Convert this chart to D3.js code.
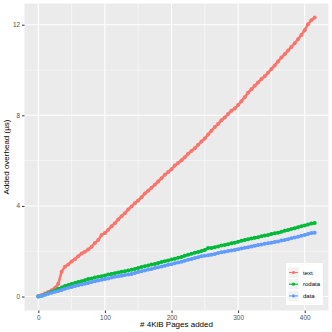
<!DOCTYPE html>
<html>
<head>
<meta charset="utf-8">
<script src="https://cdn.jsdelivr.net/npm/d3@7"></script>
<style>
  body { margin: 0; background: #fff; }
  text { font-family: "Liberation Sans", Arial, sans-serif; }
</style>
</head>
<body>
<svg id="chart" width="332" height="332"></svg>
<script>
// pages added, every 5 pages
var pages = d3.range(0, 420, 5);

var textUs = [0.02, 0.07, 0.13, 0.2, 0.28, 0.38, 0.56, 1.1, 1.32, 1.42,
    1.55, 1.65, 1.78, 1.9, 1.98, 2.08, 2.2, 2.36, 2.5, 2.72,
    2.8, 2.95, 3.1, 3.24, 3.4, 3.55, 3.68, 3.84, 3.98, 4.12,
    4.24, 4.38, 4.55, 4.67, 4.8, 4.94, 5.08, 5.22, 5.38, 5.5,
    5.62, 5.78, 5.9, 6.02, 6.15, 6.3, 6.42, 6.55, 6.7, 6.84,
    6.98, 7.15, 7.32, 7.48, 7.62, 7.78, 7.9, 8.06, 8.2, 8.3,
    8.45, 8.62, 8.8, 9.0, 9.15, 9.3, 9.45, 9.6, 9.72, 9.88,
    10.05, 10.2, 10.38, 10.55, 10.7, 10.86, 11.02, 11.18, 11.36, 11.55,
    11.76, 12.02, 12.2, 12.32];

var rodataUs = [0.0, 0.04, 0.09, 0.15, 0.21, 0.27, 0.34, 0.4, 0.46, 0.51,
    0.55, 0.6, 0.64, 0.68, 0.72, 0.77, 0.8, 0.84, 0.87, 0.9,
    0.93, 0.97, 1.0, 1.03, 1.06, 1.09, 1.12, 1.15, 1.18, 1.22,
    1.26, 1.3, 1.34, 1.37, 1.41, 1.44, 1.48, 1.52, 1.56, 1.59,
    1.63, 1.67, 1.71, 1.75, 1.8, 1.85, 1.89, 1.93, 1.97, 2.01,
    2.06, 2.14, 2.14, 2.18, 2.21, 2.25, 2.28, 2.31, 2.35, 2.38,
    2.42, 2.46, 2.5, 2.53, 2.56, 2.59, 2.62, 2.66, 2.69, 2.72,
    2.76, 2.79, 2.82, 2.86, 2.9, 2.94, 2.98, 3.02, 3.06, 3.1,
    3.14, 3.18, 3.22, 3.25];

var dataUs = [0.0, 0.04, 0.08, 0.12, 0.17, 0.21, 0.25, 0.29, 0.34, 0.39,
    0.42, 0.46, 0.5, 0.53, 0.57, 0.6, 0.64, 0.67, 0.71, 0.74,
    0.77, 0.8, 0.84, 0.87, 0.9, 0.92, 0.95, 0.97, 1.0, 1.04,
    1.08, 1.12, 1.15, 1.19, 1.22, 1.26, 1.29, 1.33, 1.36, 1.4,
    1.43, 1.47, 1.5, 1.54, 1.58, 1.62, 1.66, 1.7, 1.74, 1.78,
    1.8, 1.82, 1.85, 1.88, 1.92, 1.95, 1.98, 2.01, 2.03, 2.06,
    2.09, 2.12, 2.15, 2.18, 2.21, 2.24, 2.27, 2.3, 2.33, 2.35,
    2.38, 2.41, 2.43, 2.47, 2.5, 2.53, 2.57, 2.61, 2.64, 2.68,
    2.72, 2.76, 2.8, 2.82];

var seriesNames = ["text", "rodata", "data"];
var seriesValues = [textUs, rodataUs, dataUs];
var seriesColors = ["#F8766D", "#00BA38", "#619CFF"];

var xTicks = [0, 100, 200, 300, 400];
var xMinor = [50, 150, 250, 350];
var yTicks = [0, 4, 8, 12];
var yMinor = [2, 6, 10];

var svg = d3.select("#chart");
var panel = { left: 24.5, top: 3.5, right: 328.5, bottom: 310.5 };

var allY = d3.merge(seriesValues);
var xExt = d3.extent(pages), yExt = d3.extent(allY);
var xPad = (xExt[1] - xExt[0]) * 0.05, yPad = (yExt[1] - yExt[0]) * 0.05;

var x = d3.scaleLinear()
    .domain([xExt[0] - xPad, xExt[1] + xPad])
    .range([panel.left, panel.right]);
var y = d3.scaleLinear()
    .domain([yExt[0] - yPad, yExt[1] + yPad])
    .range([panel.bottom, panel.top]);

// panel
svg.append("rect")
    .attr("x", panel.left).attr("y", panel.top)
    .attr("width", panel.right - panel.left)
    .attr("height", panel.bottom - panel.top)
    .attr("fill", "#EBEBEB");

var grid = svg.append("g");
xMinor.forEach(function (v) {
    grid.append("line").attr("x1", x(v)).attr("x2", x(v))
        .attr("y1", panel.top).attr("y2", panel.bottom)
        .attr("stroke", "#fff").attr("stroke-width", 0.5);
});
yMinor.forEach(function (v) {
    grid.append("line").attr("y1", y(v)).attr("y2", y(v))
        .attr("x1", panel.left).attr("x2", panel.right)
        .attr("stroke", "#fff").attr("stroke-width", 0.5);
});
xTicks.forEach(function (v) {
    grid.append("line").attr("x1", x(v)).attr("x2", x(v))
        .attr("y1", panel.top).attr("y2", panel.bottom)
        .attr("stroke", "#fff").attr("stroke-width", 1.1);
});
yTicks.forEach(function (v) {
    grid.append("line").attr("y1", y(v)).attr("y2", y(v))
        .attr("x1", panel.left).attr("x2", panel.right)
        .attr("stroke", "#fff").attr("stroke-width", 1.1);
});

// axes
var xAxis = svg.append("g")
    .attr("transform", "translate(0," + panel.bottom + ")")
    .call(d3.axisBottom(x).tickValues(xTicks).tickSize(2.5).tickPadding(2));
var yAxis = svg.append("g")
    .attr("transform", "translate(" + panel.left + ",0)")
    .call(d3.axisLeft(y).tickValues(yTicks).tickSize(2.5).tickPadding(2));
[xAxis, yAxis].forEach(function (a) {
    a.select(".domain").remove();
    a.selectAll(".tick line").attr("stroke", "#333").attr("stroke-width", 1);
    a.selectAll(".tick text").attr("fill", "#4D4D4D")
        .style("font-size", "6.4px")
        .style("font-family", "Liberation Sans, Arial, sans-serif");
});

// series: thick line then points, so the band reads as dense dots
var line = d3.line()
    .x(function (d) { return x(d[0]); })
    .y(function (d) { return y(d[1]); });

seriesValues.forEach(function (vals, i) {
    var pts = pages.map(function (p, k) { return [p, vals[k]]; });
    var g = svg.append("g").attr("class", "series-" + seriesNames[i]);
    g.append("path").datum(pts)
        .attr("d", line)
        .attr("fill", "none")
        .attr("stroke", seriesColors[i])
        .attr("stroke-width", 2.6)
        .attr("stroke-linejoin", "round");
    g.selectAll("circle").data(pts).enter().append("circle")
        .attr("cx", function (d) { return x(d[0]); })
        .attr("cy", function (d) { return y(d[1]); })
        .attr("r", 2)
        .attr("fill", seriesColors[i]);
});

// axis titles
svg.append("text")
    .attr("x", (panel.left + panel.right) / 2).attr("y", 327)
    .attr("text-anchor", "middle")
    .style("font-size", "8px")
    .text("# 4KiB Pages added");
svg.append("text")
    .attr("transform", "translate(9," + ((panel.top + panel.bottom) / 2) + ") rotate(-90)")
    .attr("text-anchor", "middle")
    .style("font-size", "8px")
    .text("Added overhead (µs)");

// legend
var legend = svg.append("g").attr("transform", "translate(286,263)");
legend.append("rect")
    .attr("width", 37).attr("height", 42)
    .attr("fill", "#fff");
seriesNames.forEach(function (name, i) {
    var row = legend.append("g").attr("transform", "translate(2," + (4 + i * 11.7) + ")");
    row.append("rect")
        .attr("width", 11).attr("height", 11)
        .attr("fill", "#F2F2F2").attr("stroke", "#fff").attr("stroke-width", 0.5);
    row.append("line")
        .attr("x1", 1).attr("x2", 10).attr("y1", 5.5).attr("y2", 5.5)
        .attr("stroke", seriesColors[i]).attr("stroke-width", 1.1);
    row.append("circle")
        .attr("cx", 5.5).attr("cy", 5.5).attr("r", 1.6)
        .attr("fill", seriesColors[i]);
    row.append("text")
        .attr("x", 15).attr("y", 5.5).attr("dy", "0.35em")
        .style("font-size", "6px")
        .attr("fill", "#000")
        .text(name);
});
</script>
</body>
</html>
